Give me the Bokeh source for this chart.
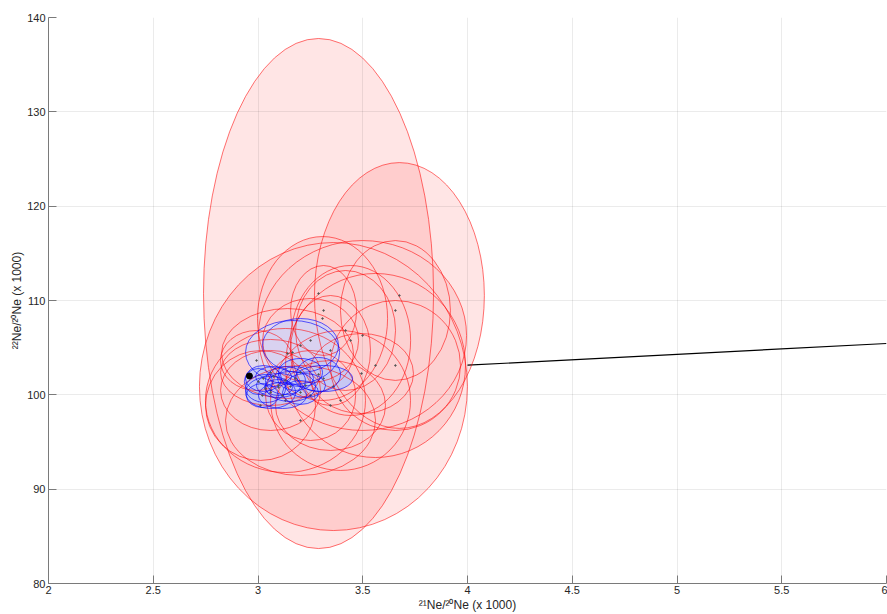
from bokeh.plotting import figure
from bokeh.models import Range1d, FixedTicker, ColumnDataSource
from bokeh.embed import file_html
from bokeh.resources import INLINE

# ---------------- data ----------------
x_ticks = [2, 2.5, 3, 3.5, 4, 4.5, 5, 5.5, 6]
x_tick_labels = ["2", "2.5", "3", "3.5", "4", "4.5", "5", "5.5", "6"]
y_ticks = [80, 90, 100, 110, 120, 130, 140]
y_tick_labels = ["80", "90", "100", "110", "120", "130", "140"]

# red ellipses: centre (21/20, 22/20) and full widths/heights (x 1000)
red_x = [3.289, 3.675, 3.360, 3.499, 3.308, 3.313, 2.993, 3.141, 3.494, 3.131,
         3.203, 3.394, 3.561, 3.442, 3.251, 3.060, 3.346, 3.656, 3.060, 3.656,
         3.418, 3.251, 3.346, 3.012]
red_y = [110.74, 110.53, 100.88, 106.29, 108.09, 108.94, 103.64, 104.38, 102.26, 99.40,
         97.28, 99.40, 103.11, 105.76, 99.93, 100.46, 104.70, 108.94, 102.37, 103.11,
         106.82, 105.76, 98.87, 98.87]
red_w = [1.098, 0.811, 1.279, 0.993, 0.621, 0.315, 0.344, 0.630, 0.496, 0.764,
         0.716, 0.668, 0.859, 0.573, 0.430, 0.477, 0.382, 0.525, 0.477, 0.621,
         0.477, 0.458, 0.525, 0.525]
red_h = [54.07, 28.20, 30.53, 20.14, 17.39, 9.54, 6.36, 9.54, 8.48, 15.27,
         11.66, 14.84, 19.51, 15.90, 9.54, 8.48, 11.66, 14.84, 7.00, 13.78,
         12.72, 8.91, 9.54, 11.66]

# blue ellipses
blue_x = [3.203, 3.165, 3.289, 3.313, 3.002, 3.036, 3.074, 3.098, 3.098, 3.131,
          3.155, 3.179, 3.060, 3.203, 3.227, 3.021, 3.117, 3.203, 3.026]
blue_y = [105.23, 104.49, 102.16, 101.73, 101.41, 100.67, 101.94, 100.99, 100.78, 101.52,
          100.88, 101.73, 100.25, 102.37, 100.99, 99.93, 99.93, 100.25, 101.73]
blue_w = [0.363, 0.449, 0.210, 0.277, 0.134, 0.191, 0.172, 0.210, 0.134, 0.191,
          0.239, 0.172, 0.239, 0.210, 0.191, 0.153, 0.229, 0.172, 0.172]
blue_h = [5.72, 6.78, 3.60, 2.76, 2.76, 2.97, 2.12, 2.54, 1.70, 2.97,
          3.18, 2.54, 3.39, 2.97, 2.54, 2.54, 2.76, 2.54, 2.76]

# air composition and mixing line
air_x = [2.959]
air_y = [102.0]
line_x = [4.0, 6.0]
line_y = [103.14, 105.44]

# ---------------- figure ----------------
p = figure(width=887, height=614, output_backend="svg", toolbar_location=None,
           x_range=Range1d(2, 6), y_range=Range1d(80, 140),
           min_border_left=48, min_border_right=1, min_border_top=17, min_border_bottom=31)
p.outline_line_color = None
p.background_fill_color = "white"

red_area = [w * h for w, h in zip(red_w, red_h)]
big = [i for i, a in enumerate(red_area) if a > 22]
small = [i for i, a in enumerate(red_area) if a <= 22]

def sub(idx, xs, ys, ws, hs):
    return ColumnDataSource(dict(x=[xs[i] for i in idx], y=[ys[i] for i in idx],
                                 w=[ws[i] for i in idx], h=[hs[i] for i in idx]))

# fills (below grid)
r = p.ellipse(x="x", y="y", width="w", height="h", source=sub(big, red_x, red_y, red_w, red_h),
              fill_color="red", fill_alpha=0.1, line_color=None)
r.level = "image"
r = p.ellipse(x="x", y="y", width="w", height="h", source=sub(small, red_x, red_y, red_w, red_h),
              fill_color="#fdd0d1", line_color=None)
r.level = "image"

blue_area = [w * h for w, h in zip(blue_w, blue_h)]
bbig = [i for i, a in enumerate(blue_area) if a > 1.5]
bsmall = [i for i, a in enumerate(blue_area) if a <= 1.5]
r = p.ellipse(x="x", y="y", width="w", height="h", source=sub(bbig[1:], blue_x, blue_y, blue_w, blue_h),
              fill_color="#e4d8ee", line_color=None)
r.level = "image"
r = p.ellipse(x="x", y="y", width="w", height="h", source=sub(bbig[:1], blue_x, blue_y, blue_w, blue_h),
              fill_color="#d9d2f0", line_color=None)
r.level = "image"
r = p.ellipse(x="x", y="y", width="w", height="h", source=sub(bsmall, blue_x, blue_y, blue_w, blue_h),
              fill_color="#c7c8f4", line_color=None)
r.level = "image"

p.line(line_x, line_y, line_color="black", line_width=1.2)

red_src = ColumnDataSource(dict(x=red_x, y=red_y, w=red_w, h=red_h))
p.ellipse(x="x", y="y", width="w", height="h", source=red_src,
          fill_color=None, line_color="red", line_alpha=0.62, line_width=0.9)
p.scatter(x="x", y="y", source=red_src, size=1.5, color="#555555")

blue_src = ColumnDataSource(dict(x=blue_x, y=blue_y, w=blue_w, h=blue_h))
p.ellipse(x="x", y="y", width="w", height="h", source=blue_src,
          fill_color=None, line_color="blue", line_alpha=0.7, line_width=0.9)
p.scatter(x="x", y="y", source=blue_src, size=1.5, color="#555555")

p.scatter(air_x, air_y, size=6, color="black")

font = "Liberation Sans"
for ax, ticks, labels in ((p.xaxis[0], x_ticks, x_tick_labels), (p.yaxis[0], y_ticks, y_tick_labels)):
    ax.ticker = FixedTicker(ticks=ticks)
    ax.major_label_overrides = {t: l for t, l in zip(ticks, labels)}
    ax.minor_tick_line_color = None
    ax.major_tick_in = 8
    ax.major_tick_out = 0
    ax.axis_line_color = "#7a7a7a"
    ax.major_tick_line_color = "#7a7a7a"
    ax.major_label_text_font = font
    ax.major_label_text_font_size = "11px"
    ax.major_label_text_color = "#262626"
    ax.axis_label_text_font = font
    ax.axis_label_text_font_size = "12px"
    ax.axis_label_text_font_style = "normal"
    ax.axis_label_text_color = "#262626"
    ax.major_label_standoff = 3

p.xaxis.axis_label = "²¹Ne/²⁰Ne (x 1000)"
p.yaxis.axis_label = "²²Ne/²⁰Ne (x 1000)"
p.xaxis.major_label_standoff = 2
p.xaxis.axis_label_standoff = 1
p.yaxis.axis_label_standoff = 0

p.xgrid.ticker = FixedTicker(ticks=x_ticks)
p.ygrid.ticker = FixedTicker(ticks=y_ticks)
p.grid.grid_line_color = "black"
p.grid.grid_line_alpha = 0.08

open("out.html", "w").write(file_html(p, INLINE))
